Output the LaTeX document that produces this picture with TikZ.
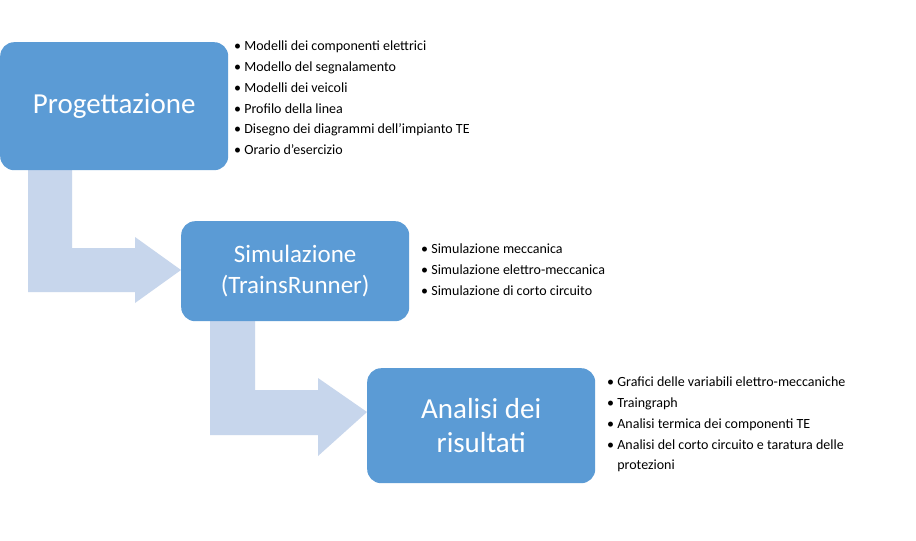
\documentclass[tikz,border=0pt]{standalone}
\usepackage{fontspec}
\setmainfont{Carlito}
\begin{document}
\begin{tikzpicture}[x=1pt,y=-1pt]
\definecolor{boxc}{HTML}{5B9BD5}
\definecolor{arrc}{HTML}{C7D6EC}
\tikzset{stage/.style={draw=none,fill=boxc,rounded corners=14pt,text=white,align=center,anchor=north west,inner sep=0pt},
 bul/.style={anchor=north west,align=left,font=\fontsize{14}{20.7}\selectfont,inner sep=0pt},
 barrow/.style={fill=arrc,draw=none}}
\useasboundingbox (0,0) rectangle (916,541);
\fill[white] (0,0) rectangle (916,541);
\fill[barrow] (28,165) -- (72,165) -- (72,248) -- (135,248) -- (135,237) -- (181,270) -- (135,303) -- (135,292) -- (28,292) -- cycle;
\fill[barrow] (210,315) -- (255,315) -- (255,390) -- (318,390) -- (318,378) -- (367,412) -- (318,456) -- (318,435) -- (210,435) -- cycle;
\node[stage,minimum width=228pt,minimum height=128pt,font=\fontsize{29}{34}\selectfont] (p) at (0,42) {Progettazione};
\node[stage,minimum width=228pt,minimum height=100pt,font=\fontsize{25}{31}\selectfont] (s) at (181,221) {Simulazione\\(TrainsRunner)};
\node[stage,minimum width=228pt,minimum height=115pt,font=\fontsize{29}{34}\selectfont] (a) at (367,368) {Analisi dei\\risultati};
\node[bul] (b1) at (234,41) {•\ Modelli dei componenti  elettrici\\•\ Modello del segnalamento\\•\ Modelli dei veicoli\\•\ Profilo della linea\\•\ Disegno dei diagrammi dell’impianto TE\\•\ Orario d’esercizio};
\node[bul] (b2) at (421,244) {•\ Simulazione meccanica\\•\ Simulazione elettro-meccanica\\•\ Simulazione di corto circuito};
\node[bul] (b3) at (607,377) {•\ Grafici delle variabili elettro-meccaniche\\•\ Traingraph\\•\ Analisi termica dei componenti  TE\\•\ Analisi del corto circuito e taratura delle\\\phantom{•\ }protezioni};
\end{tikzpicture}
\end{document}
